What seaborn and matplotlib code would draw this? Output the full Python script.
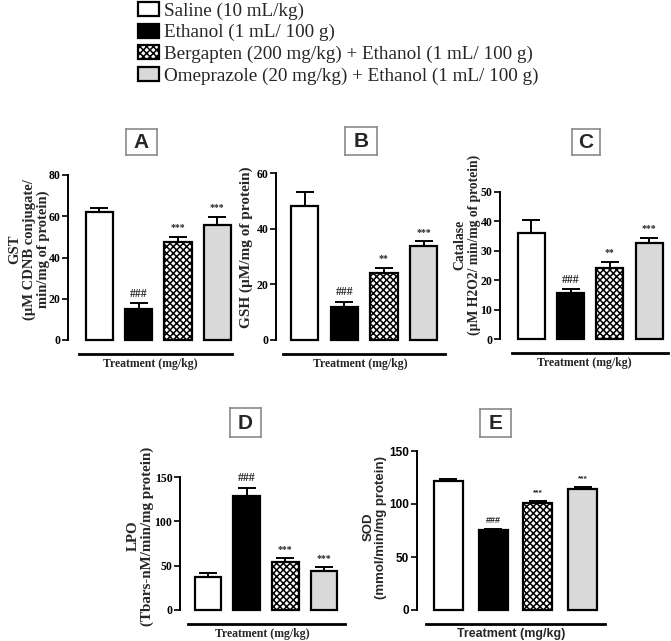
import numpy as np
import pandas as pd
import matplotlib
matplotlib.use("Agg")
import matplotlib.pyplot as plt
import seaborn as sns

# ---------------- data ----------------
groups = ["Saline (10 mL/kg)",
          "Ethanol (1 mL/ 100 g)",
          "Bergapten (200 mg/kg) + Ethanol (1 mL/ 100 g)",
          "Omeprazole (20 mg/kg) + Ethanol (1 mL/ 100 g)"]

gst_mean = [62.2, 14.9, 47.7, 55.8]
gst_err = [1.6, 2.9, 2.1, 4.0]
gst_sig = ["", "###", "***", "***"]

gsh_mean = [48.2, 12.0, 24.2, 33.8]
gsh_err = [4.8, 1.7, 1.8, 1.6]
gsh_sig = ["", "###", "**", "***"]

cat_mean = [35.9, 15.6, 24.3, 32.5]
cat_err = [4.5, 1.3, 1.8, 1.9]
cat_sig = ["", "###", "**", "***"]

lpo_mean = [37.5, 128.6, 54.4, 43.9]
lpo_err = [4.5, 9.4, 3.7, 4.1]
lpo_sig = ["", "###", "***", "***"]

sod_mean = [122.0, 75.5, 100.6, 114.5]
sod_err = [1.6, 1.2, 1.9, 1.5]
sod_sig = ["", "###", "***", "***"]

gst_ylabel = "GST\n(µM CDNB conjugate/\nmin/mg of protein)"
gsh_ylabel = "GSH (µM/mg of protein)"
cat_ylabel = "Catalase\n(µM H2O2/ min/mg of protein)"
lpo_ylabel = "LPO\n(Tbars-nM/min/mg protein)"
sod_ylabel = "SOD\n(mmol/min/mg protein)"
xlabel_text = "Treatment (mg/kg)"

gst_ticks = [0, 20, 40, 60, 80]
gsh_ticks = [0, 20, 40, 60]
cat_ticks = [0, 10, 20, 30, 40, 50]
lpo_ticks = [0, 50, 100, 150]
sod_ticks = [0, 50, 100, 150]

# ---------------- style ----------------
bar_colors = ["#ffffff", "#000000", "#ffffff", "#d9d9d9"]
bar_hatches = ["", "", "xxxxx", ""]

sns.set_style("ticks")
plt.rcParams["font.family"] = ["Liberation Serif", "DejaVu Serif"]
plt.rcParams["hatch.linewidth"] = 1.1
plt.rcParams["hatch.color"] = "black"

W, H = 671, 641
fig = plt.figure(figsize=(W / 100, H / 100), dpi=100)
fig.patch.set_facecolor("white")


def rect(l, t, r, b):
    return [l / W, 1 - b / H, (r - l) / W, (b - t) / H]


SERIF = ["Liberation Serif", "DejaVu Serif"]
SANS = ["Liberation Sans", "DejaVu Sans"]


def draw_panel(ax, means, errs, sig, ticks, ylabel, xlim, spine_bounds,
               bw, fam, ylab_size, ylab_coords, ylab_ls, tick_size,
               xlab_size, sig_sizes, lw=1.6):
    df = pd.DataFrame({"group": groups, "value": means})
    sns.barplot(data=df, x="group", y="value", hue="group", order=groups,
                hue_order=groups, palette=dict(zip(groups, bar_colors)),
                edgecolor="black", linewidth=lw, width=bw, saturation=1,
                legend=False, errorbar=None, ax=ax)
    for patch, h in zip(ax.patches, bar_hatches):
        patch.set_hatch(h)
        patch.set_clip_on(False)
    x = np.arange(len(groups))
    eb = ax.errorbar(x, means, yerr=[np.zeros(len(errs)), errs], fmt="none",
                     ecolor="black", elinewidth=1.4, capsize=6.5,
                     capthick=1.4, zorder=3)
    for art in eb.get_children():
        art.set_clip_on(False)
    for i, s in enumerate(sig):
        if s:
            if s.startswith("#"):
                size, off = sig_sizes[0], 2.5
            else:
                size, off = sig_sizes[1], 3.5
            ax.annotate(s, xy=(i, means[i] + errs[i]), xytext=(0, off),
                        textcoords="offset points", ha="center", va="bottom",
                        fontsize=size, family=fam, fontweight="bold",
                        annotation_clip=False)
    ax.set_xlim(*xlim)
    ax.set_ylim(0, ticks[-1])
    ax.set_yticks(ticks)
    ax.set_yticklabels([str(t) for t in ticks], fontfamily=fam,
                       fontweight="bold", fontsize=tick_size)
    ax.set_xticks([])
    ax.tick_params(axis="y", length=4, width=1.2, pad=1.5, direction="out",
                   colors="black")
    sns.despine(ax=ax)
    ax.spines["left"].set_bounds(0, ticks[-1])
    ax.spines["left"].set_linewidth(1.4)
    ax.spines["left"].set_color("black")
    ax.spines["bottom"].set_position(("outward", 10))
    ax.spines["bottom"].set_bounds(*spine_bounds)
    ax.spines["bottom"].set_linewidth(2.0)
    ax.spines["bottom"].set_color("black")
    ax.set_xlabel(xlabel_text, fontsize=xlab_size, family=fam,
                  fontweight="bold", labelpad=3)
    ax.set_ylabel(ylabel, fontsize=ylab_size, family=fam, fontweight="bold",
                  va="center", ha="center", linespacing=ylab_ls)
    ax.yaxis.set_label_coords(*ylab_coords)
    ax.set_facecolor("none")
    return ax


def letter_box(l, t, r, b, letter):
    axl = fig.add_axes(rect(l, t, r, b))
    axl.set_xticks([])
    axl.set_yticks([])
    for sp in axl.spines.values():
        sp.set_visible(True)
        sp.set_edgecolor("#8a8a8a")
        sp.set_linewidth(1.2)
    axl.set_facecolor("white")
    axl.text(0.5, 0.47, letter, ha="center", va="center", fontsize=15,
             fontweight="bold", family=SANS, transform=axl.transAxes)


# Panel A
axA = fig.add_axes(rect(68, 175, 233, 340))
draw_panel(axA, gst_mean, gst_err, gst_sig, gst_ticks, gst_ylabel,
           (-0.80, 3.40), (-0.52, 3.38), 0.69, SERIF, 10.5, (-0.235, 0.55),
           1.08, 8.5, 8.5, (8.5, 7))
# Panel B
axB = fig.add_axes(rect(276, 173, 445, 340))
draw_panel(axB, gsh_mean, gsh_err, gsh_sig, gsh_ticks, gsh_ylabel,
           (-0.72, 3.54), (-0.54, 3.54), 0.69, SERIF, 11, (-0.175, 0.557),
           1.0, 8.5, 8.5, (8.5, 7))
# Panel C
axC = fig.add_axes(rect(500, 192, 668, 339))
draw_panel(axC, cat_mean, cat_err, cat_sig, cat_ticks, cat_ylabel,
           (-0.80, 3.48), (-0.50, 3.48), 0.69, SERIF, 9.8, (-0.195, 0.64),
           1.05, 8.5, 8.5, (8.5, 7))
# Panel D
axD = fig.add_axes(rect(180, 477, 345, 610))
draw_panel(axD, lpo_mean, lpo_err, lpo_sig, lpo_ticks, lpo_ylabel,
           (-0.72, 3.54), (-0.52, 3.54), 0.69, SERIF, 10.8, (-0.24, 0.556),
           1.08, 8.5, 8.5, (8.5, 7))
# Panel E
axE = fig.add_axes(rect(417, 451, 605, 610))
draw_panel(axE, sod_mean, sod_err, sod_sig, sod_ticks, sod_ylabel,
           (-0.70, 3.50), (-0.50, 3.50), 0.65, SANS, 9.5, (-0.222, 0.522),
           1.05, 8.5, 9, (6.5, 6))

letter_box(126, 129, 157, 155, "A")
letter_box(345, 127, 377, 155, "B")
letter_box(572, 129, 600, 155, "C")
letter_box(230, 408, 261, 437, "D")
letter_box(480, 409, 511, 437, "E")

# Legend from panel A bars
handles = axA.patches[:4]
fig.legend(handles, groups, loc="upper left",
           bbox_to_anchor=(138 / W, 1 - 2 / H), frameon=False,
           prop={"family": SERIF, "size": 13.8}, handlelength=1.07,
           handleheight=0.75, handletextpad=0.3, labelspacing=0.2,
           borderpad=0, borderaxespad=0)

fig.savefig("out.png", dpi=100, facecolor="white")
